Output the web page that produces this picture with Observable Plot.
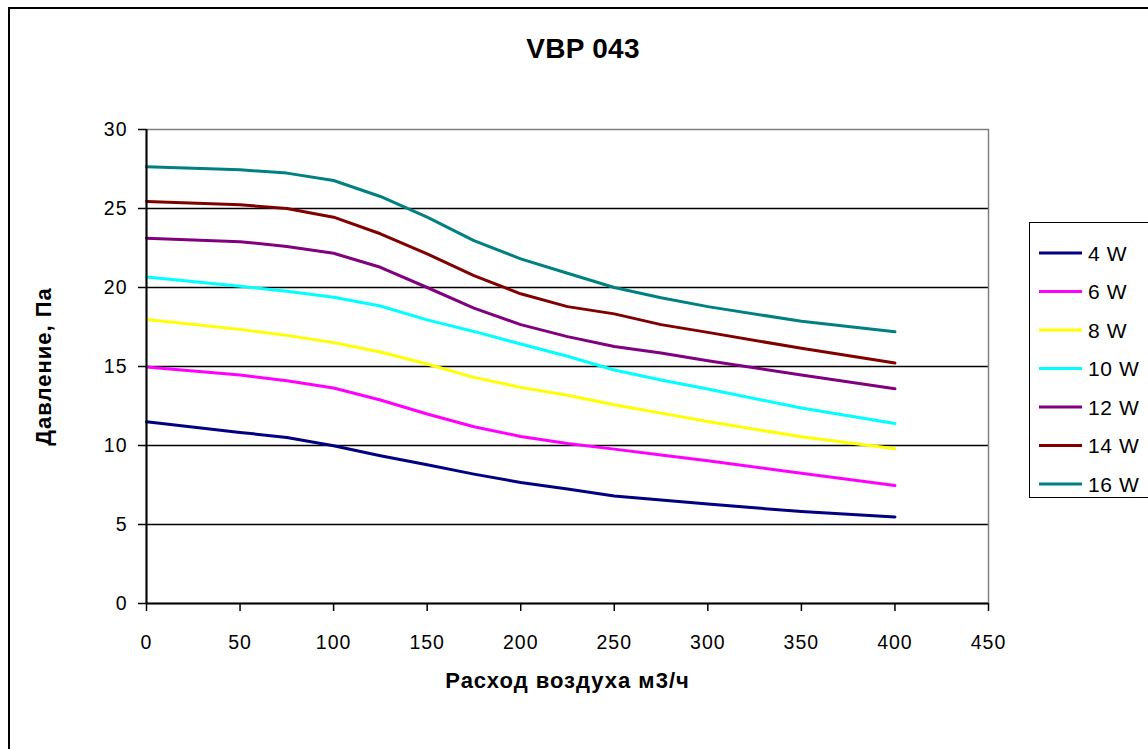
<!DOCTYPE html>
<html>
<head>
<meta charset="utf-8">
<script src="https://cdn.jsdelivr.net/npm/d3@7"></script>
<script src="https://cdn.jsdelivr.net/npm/@observablehq/plot@0.6"></script>
<style>
  body { margin: 0; background: white; }
  #wrap { position: relative; width: 1148px; height: 749px; overflow: hidden; background: white; font-family: "Liberation Sans", Arial, sans-serif; }
  #frame { position: absolute; left: 8px; top: 7px; width: 1300px; height: 900px; border: 2px solid black; }
  #title { position: absolute; left: 0; width: 1166px; top: 33px; text-align: center; font-weight: bold; font-size: 28px; letter-spacing: 0.3px; }
  #chart { position: absolute; left: 0; top: 0; }
  #legend { position: absolute; left: 1029px; top: 222px; width: 160px; height: 274px; border: 1.5px solid black; background: white; }
  #chart text { letter-spacing: 1px; }
  g[aria-label="x-axis label"] text, g[aria-label="y-axis label"] text { font-weight: bold; font-size: 22px; letter-spacing: 0.6px; }
</style>
</head>
<body>
<div id="wrap">
  <div id="frame"></div>
  <div id="title"></div>
  <div id="chart"></div>
  <div id="legend"></div>
</div>
<script>
const titleText = "VBP 043";
const xLabel = "Расход воздуха м3/ч";
const yLabel = "Давление, Па";
const xTicks = [0, 50, 100, 150, 200, 250, 300, 350, 400, 450];
const yTicks = [0, 5, 10, 15, 20, 25, 30];
const flow = [0, 50, 75, 100, 125, 150, 175, 200, 225, 250, 275, 300, 350, 400];
const seriesNames = ["4 W", "6 W", "8 W", "10 W", "12 W", "14 W", "16 W"];
const seriesColors = ["#000080", "#FF00FF", "#FFFF00", "#00FFFF", "#800080", "#800000", "#008080"];
const w4  = [11.5, 10.83, 10.51, 9.98, 9.35, 8.78, 8.19, 7.66, 7.25, 6.81, 6.55, 6.29, 5.82, 5.48];
const w6  = [14.97, 14.46, 14.1, 13.64, 12.88, 11.99, 11.19, 10.57, 10.12, 9.77, 9.4, 9.03, 8.25, 7.47];
const w8  = [17.97, 17.35, 16.97, 16.51, 15.92, 15.16, 14.31, 13.68, 13.18, 12.58, 12.05, 11.52, 10.55, 9.79];
const w10 = [20.67, 20.08, 19.76, 19.38, 18.83, 17.95, 17.22, 16.42, 15.65, 14.78, 14.15, 13.57, 12.37, 11.39];
const w12 = [23.12, 22.9, 22.6, 22.17, 21.28, 20.0, 18.7, 17.65, 16.89, 16.27, 15.85, 15.37, 14.46, 13.59];
const w14 = [25.44, 25.23, 25.0, 24.45, 23.4, 22.13, 20.75, 19.6, 18.79, 18.33, 17.65, 17.16, 16.15, 15.22];
const w16 = [27.65, 27.45, 27.24, 26.77, 25.76, 24.45, 22.97, 21.81, 20.9, 20.0, 19.35, 18.79, 17.86, 17.2];

const seriesValues = [w4, w6, w8, w10, w12, w14, w16];
const rows = seriesNames.flatMap((name, i) => flow.map((f, j) => ({series: name, flow: f, pressure: seriesValues[i][j]})));

document.getElementById("title").textContent = titleText;

const chart = Plot.plot({
  width: 1148,
  height: 749,
  marginLeft: 146,
  marginRight: 160,
  marginTop: 129,
  marginBottom: 146,
  style: {fontFamily: "'Liberation Sans', Arial, sans-serif", fontSize: "19.5px", color: "black", background: "transparent", overflow: "visible"},
  x: {domain: [0, 450]},
  y: {domain: [0, 30]},
  color: {domain: seriesNames, range: seriesColors},
  marks: [
    Plot.gridY(yTicks.filter(v => v > 0 && v < 30), {stroke: "black", strokeOpacity: 1, strokeWidth: 1.5}),
    Plot.frame({stroke: "#808080", strokeWidth: 1.5}),
    Plot.line(rows, {x: "flow", y: "pressure", z: "series", stroke: "series", strokeWidth: 3}),
    Plot.ruleX([0], {stroke: "black", strokeWidth: 2}),
    Plot.ruleY([0], {stroke: "black", strokeWidth: 2}),
    Plot.axisX(xTicks, {tickSize: 8, tickPadding: 24, label: xLabel, labelAnchor: "center", labelArrow: "none", labelOffset: 84, strokeWidth: 1.5}),
    Plot.axisY(yTicks, {tickSize: 8, tickPadding: 11, label: yLabel, labelAnchor: "center", labelArrow: "none", labelOffset: 111, strokeWidth: 1.5})
  ]
});
document.getElementById("chart").appendChild(chart);

// legend built from the same series definitions
const leg = d3.select("#legend");
const lsvg = leg.append("svg").attr("width", 160).attr("height", 274)
  .style("font-family", "'Liberation Sans', Arial, sans-serif").style("font-size", "21px").style("letter-spacing", "0.6px");
const rowY = d3.scalePoint().domain(seriesNames).range([30, 261]);
const g = lsvg.selectAll("g").data(seriesNames).join("g").attr("transform", d => `translate(0,${rowY(d)})`);
g.append("line").attr("x1", 9).attr("x2", 52).attr("stroke", (d, i) => seriesColors[i]).attr("stroke-width", 3);
g.append("text").attr("x", 58).attr("dy", "0.36em").text(d => d);
</script>
</body>
</html>
